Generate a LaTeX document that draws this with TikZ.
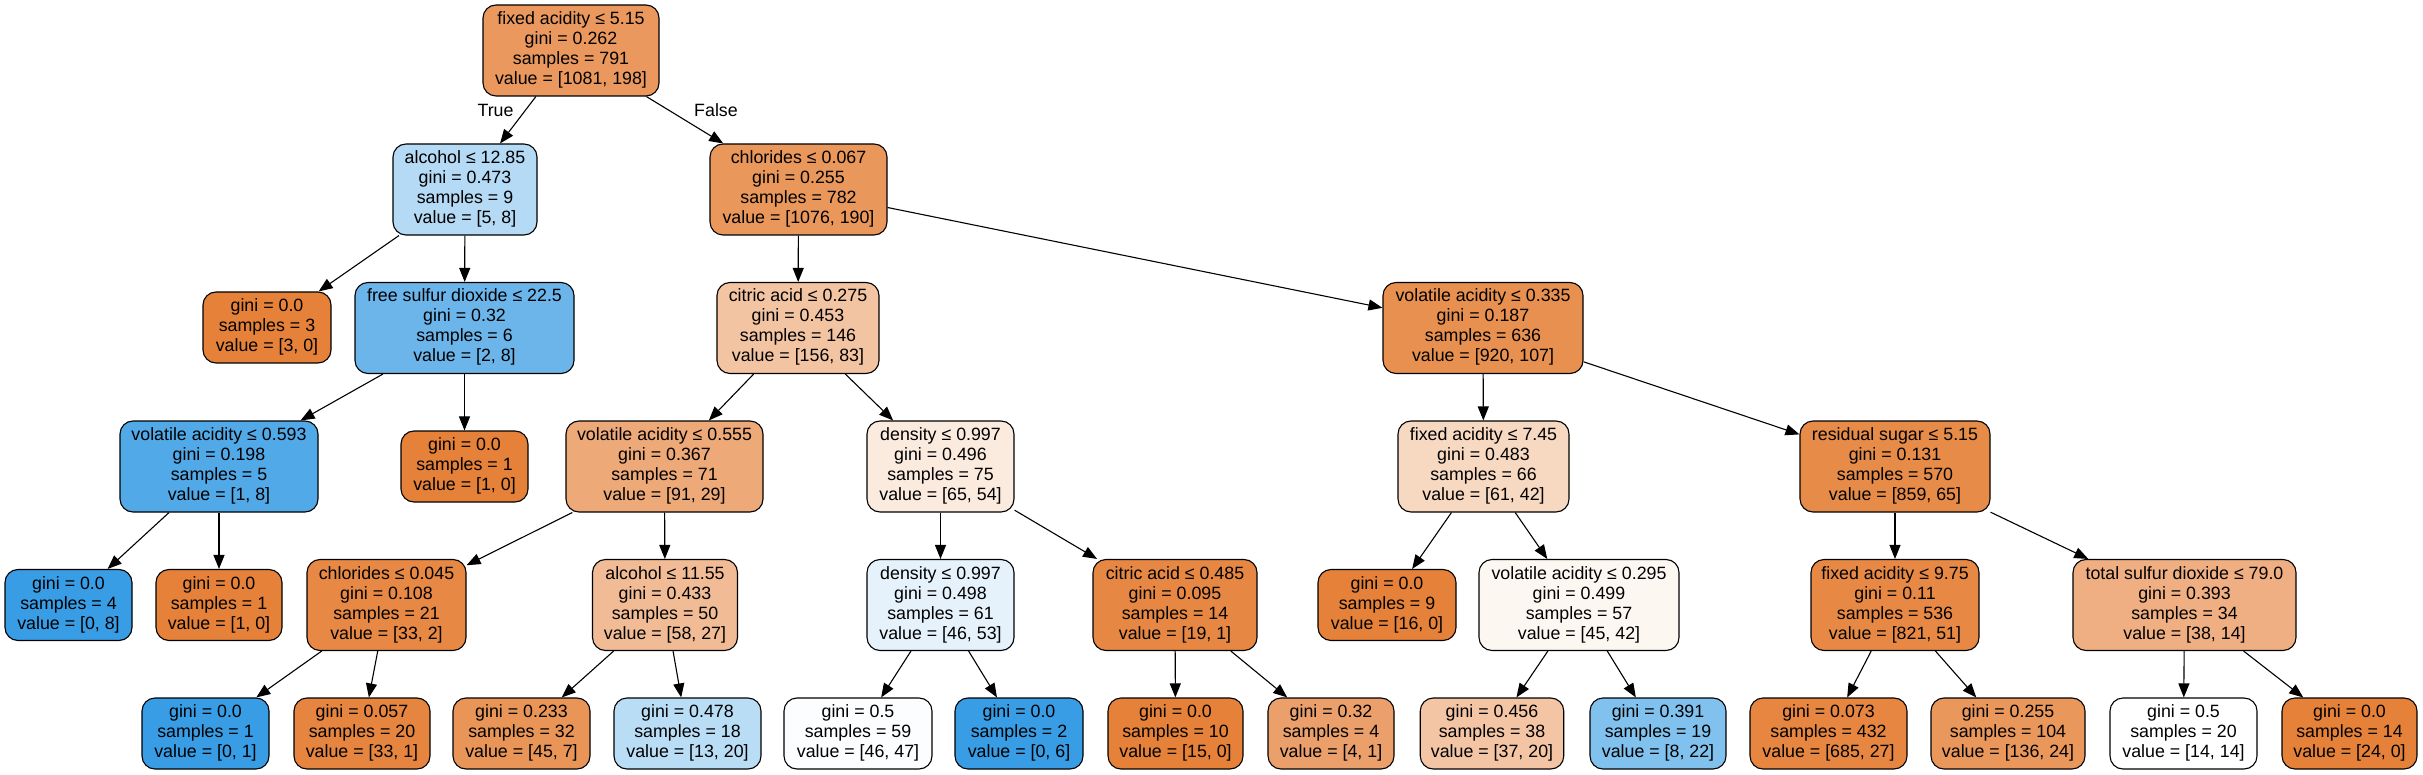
\documentclass[tikz,border=0pt]{standalone}
\usepackage{fontspec}
\setmainfont{Liberation Sans}
\usetikzlibrary{arrows.meta}
\definecolor{OC}{RGB}{229,129,57}
\definecolor{BC}{RGB}{57,157,229}
\newcommand{\nodetext}[1]{{\fontsize{17.8pt}{20pt}\selectfont\renewcommand{\arraystretch}{1}\begin{tabular}{@{}c@{}}#1\end{tabular}}}
\begin{document}
\begin{tikzpicture}[x=1pt,y=-1pt,
  tn/.style={draw=black, line width=1.1pt, rounded corners=13pt, inner sep=0pt,
    font=\fontsize{17.8pt}{20pt}\selectfont},
  d4/.style={tn, minimum height=91pt},
  d3/.style={tn, minimum height=71pt},
  edge/.style={draw=black, line width=1.1pt, -{Triangle[length=14pt,width=11pt]}},
  lbl/.style={inner sep=0pt, font=\fontsize{17.8pt}{20pt}\selectfont}]
\useasboundingbox (0,0) rectangle (2423,775);
% level 0
\node[d4, fill=OC!81.7!white, minimum width=176pt] (n0) at (571,50.5) {\nodetext{fixed acidity ≤ 5.15\\gini = 0.262\\samples = 791\\value = [1081, 198]}};
% level 1
\node[d4, fill=BC!37.5!white, minimum width=144pt] (n1) at (465,189.5) {\nodetext{alcohol ≤ 12.85\\gini = 0.473\\samples = 9\\value = [5, 8]}};
\node[d4, fill=OC!82.3!white, minimum width=177pt] (n2) at (798.5,189.5) {\nodetext{chlorides ≤ 0.067\\gini = 0.255\\samples = 782\\value = [1076, 190]}};
% level 2
\node[d3, fill=OC, minimum width=128pt] (n3) at (267,327.5) {\nodetext{gini = 0.0\\samples = 3\\value = [3, 0]}};
\node[d4, fill=BC!75!white, minimum width=219pt] (n4) at (464.5,328) {\nodetext{free sulfur dioxide ≤ 22.5\\gini = 0.32\\samples = 6\\value = [2, 8]}};
\node[d4, fill=OC!46.8!white, minimum width=162pt] (n9) at (798,328) {\nodetext{citric acid ≤ 0.275\\gini = 0.453\\samples = 146\\value = [156, 83]}};
\node[d4, fill=OC!88.4!white, minimum width=200pt] (n10) at (1483,328) {\nodetext{volatile acidity ≤ 0.335\\gini = 0.187\\samples = 636\\value = [920, 107]}};
% level 3
\node[d4, fill=BC!87.5!white, minimum width=198pt] (n5) at (219,466.5) {\nodetext{volatile acidity ≤ 0.593\\gini = 0.198\\samples = 5\\value = [1, 8]}};
\node[d3, fill=OC, minimum width=127pt] (n6) at (464.5,466.5) {\nodetext{gini = 0.0\\samples = 1\\value = [1, 0]}};
\node[d4, fill=OC!68.1!white, minimum width=197pt] (n11) at (664.5,466.5) {\nodetext{volatile acidity ≤ 0.555\\gini = 0.367\\samples = 71\\value = [91, 29]}};
\node[d4, fill=OC!16.9!white, minimum width=147pt] (n12) at (940.5,466.5) {\nodetext{density ≤ 0.997\\gini = 0.496\\samples = 75\\value = [65, 54]}};
\node[d4, fill=OC!31.1!white, minimum width=171pt] (n25) at (1483.5,466.5) {\nodetext{fixed acidity ≤ 7.45\\gini = 0.483\\samples = 66\\value = [61, 42]}};
\node[d4, fill=OC!92.4!white, minimum width=190pt] (n26) at (1895,466.5) {\nodetext{residual sugar ≤ 5.15\\gini = 0.131\\samples = 570\\value = [859, 65]}};
% level 4
\node[d3, fill=BC, minimum width=127pt] (n7) at (68.5,605) {\nodetext{gini = 0.0\\samples = 4\\value = [0, 8]}};
\node[d3, fill=OC, minimum width=126pt] (n8) at (219,605) {\nodetext{gini = 0.0\\samples = 1\\value = [1, 0]}};
\node[d4, fill=OC!93.9!white, minimum width=159pt] (n13) at (386.5,605) {\nodetext{chlorides ≤ 0.045\\gini = 0.108\\samples = 21\\value = [33, 2]}};
\node[d4, fill=OC!53.4!white, minimum width=145pt] (n14) at (665,605) {\nodetext{alcohol ≤ 11.55\\gini = 0.433\\samples = 50\\value = [58, 27]}};
\node[d4, fill=BC!13.2!white, minimum width=147pt] (n19) at (940.5,605) {\nodetext{density ≤ 0.997\\gini = 0.498\\samples = 61\\value = [46, 53]}};
\node[d4, fill=OC!94.7!white, minimum width=164pt] (n20) at (1175,605) {\nodetext{citric acid ≤ 0.485\\gini = 0.095\\samples = 14\\value = [19, 1]}};
\node[d3, fill=OC, minimum width=138pt] (n27) at (1387,605) {\nodetext{gini = 0.0\\samples = 9\\value = [16, 0]}};
\node[d4, fill=OC!6.7!white, minimum width=200pt] (n28) at (1579,605) {\nodetext{volatile acidity ≤ 0.295\\gini = 0.499\\samples = 57\\value = [45, 42]}};
\node[d4, fill=OC!93.8!white, minimum width=168pt] (n31) at (1895,605) {\nodetext{fixed acidity ≤ 9.75\\gini = 0.11\\samples = 536\\value = [821, 51]}};
\node[d4, fill=OC!63.2!white, minimum width=223pt] (n32) at (2184.5,605) {\nodetext{total sulfur dioxide ≤ 79.0\\gini = 0.393\\samples = 34\\value = [38, 14]}};
% level 5
\node[d3, fill=BC, minimum width=127pt] (n15) at (205.5,733.5) {\nodetext{gini = 0.0\\samples = 1\\value = [0, 1]}};
\node[d3, fill=OC!97!white, minimum width=136pt] (n16) at (362,733.5) {\nodetext{gini = 0.057\\samples = 20\\value = [33, 1]}};
\node[d3, fill=OC!84.4!white, minimum width=137pt] (n17) at (521.5,733.5) {\nodetext{gini = 0.233\\samples = 32\\value = [45, 7]}};
\node[d3, fill=BC!35!white, minimum width=147pt] (n18) at (687.5,733.5) {\nodetext{gini = 0.478\\samples = 18\\value = [13, 20]}};
\node[d3, fill=BC!2.1!white, minimum width=148pt] (n21) at (858,733.5) {\nodetext{gini = 0.5\\samples = 59\\value = [46, 47]}};
\node[d3, fill=BC, minimum width=128pt] (n22) at (1019,733.5) {\nodetext{gini = 0.0\\samples = 2\\value = [0, 6]}};
\node[d3, fill=OC, minimum width=135pt] (n23) at (1175.5,733.5) {\nodetext{gini = 0.0\\samples = 10\\value = [15, 0]}};
\node[d3, fill=OC!75!white, minimum width=126pt] (n24) at (1331,733.5) {\nodetext{gini = 0.32\\samples = 4\\value = [4, 1]}};
\node[d3, fill=OC!45.9!white, minimum width=143.5pt] (n29) at (1492,733.5) {\nodetext{gini = 0.456\\samples = 38\\value = [37, 20]}};
\node[d3, fill=BC!63.6!white, minimum width=136pt] (n30) at (1658,733.5) {\nodetext{gini = 0.391\\samples = 19\\value = [8, 22]}};
\node[d3, fill=OC!96.1!white, minimum width=157pt] (n33) at (1828.5,733.5) {\nodetext{gini = 0.073\\samples = 432\\value = [685, 27]}};
\node[d3, fill=OC!82.4!white, minimum width=154pt] (n34) at (2008,733.5) {\nodetext{gini = 0.255\\samples = 104\\value = [136, 24]}};
\node[d3, fill=white, minimum width=147pt] (n35) at (2183.5,733.5) {\nodetext{gini = 0.5\\samples = 20\\value = [14, 14]}};
\node[d3, fill=OC, minimum width=135pt] (n36) at (2349.5,733.5) {\nodetext{gini = 0.0\\samples = 14\\value = [24, 0]}};
% labels
\node[lbl] (lt) at (495.5,110) {True};
\node[lbl] (lf) at (716,110) {False};
% edges
\draw[edge] (n0) -- (n1);
\draw[edge] (n0) -- (n2);
\draw[edge] (n1) -- (n3);
\draw[edge] (n1) -- (n4);
\draw[edge] (n4) -- (n5);
\draw[edge] (n4) -- (n6);
\draw[edge] (n5) -- (n7);
\draw[edge] (n5) -- (n8);
\draw[edge] (n2) -- (n9);
\draw[edge] (n2) -- (n10);
\draw[edge] (n9) -- (n11);
\draw[edge] (n9) -- (n12);
\draw[edge] (n11) -- (n13);
\draw[edge] (n11) -- (n14);
\draw[edge] (n13) -- (n15);
\draw[edge] (n13) -- (n16);
\draw[edge] (n14) -- (n17);
\draw[edge] (n14) -- (n18);
\draw[edge] (n12) -- (n19);
\draw[edge] (n12) -- (n20);
\draw[edge] (n19) -- (n21);
\draw[edge] (n19) -- (n22);
\draw[edge] (n20) -- (n23);
\draw[edge] (n20) -- (n24);
\draw[edge] (n10) -- (n25);
\draw[edge] (n10) -- (n26);
\draw[edge] (n25) -- (n27);
\draw[edge] (n25) -- (n28);
\draw[edge] (n28) -- (n29);
\draw[edge] (n28) -- (n30);
\draw[edge] (n26) -- (n31);
\draw[edge] (n26) -- (n32);
\draw[edge] (n31) -- (n33);
\draw[edge] (n31) -- (n34);
\draw[edge] (n32) -- (n35);
\draw[edge] (n32) -- (n36);
\end{tikzpicture}
\end{document}
